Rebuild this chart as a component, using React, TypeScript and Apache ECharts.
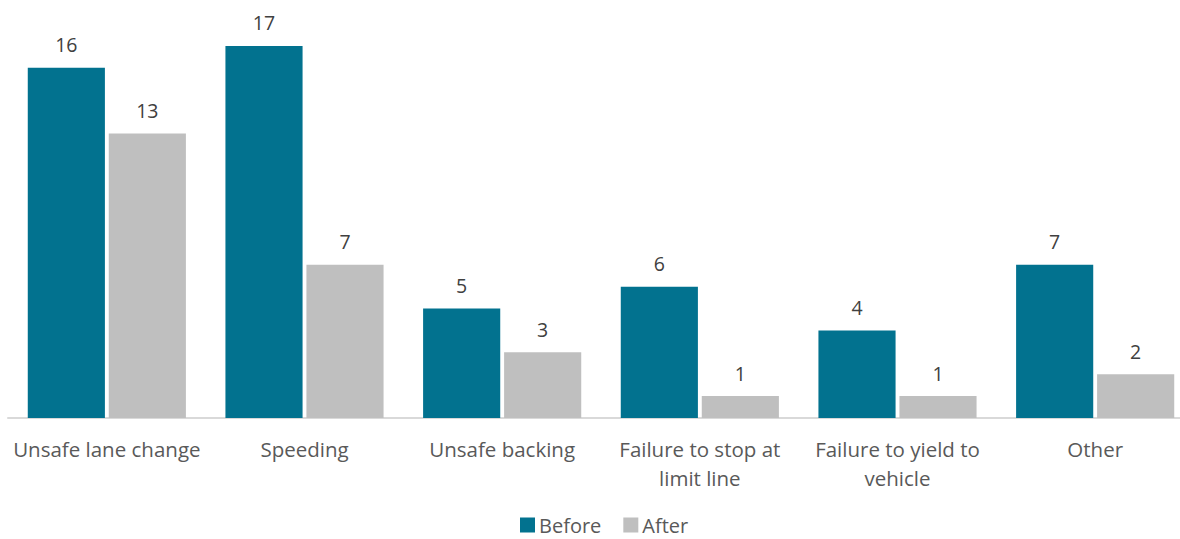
import React, { useEffect, useRef } from "react";
import * as echarts from "echarts";

const categories = [
  "Unsafe lane change",
  "Speeding",
  "Unsafe backing",
  "Failure to stop at\nlimit line",
  "Failure to yield to\nvehicle",
  "Other",
];
const beforeValues = [16, 17, 5, 6, 4, 7];
const afterValues = [13, 7, 3, 1, 1, 2];
const seriesNames = ["Before", "After"];

export default function App() {
  const ref = useRef<HTMLDivElement>(null);
  useEffect(() => {
    if (!ref.current) return;
    const chart = echarts.init(ref.current, undefined, { renderer: "svg" });
    const font = "'Open Sans', sans-serif";
    chart.setOption({
      animation: false,
      grid: { left: 8, right: 0, top: 24, bottom: 121, containLabel: false },
      legend: {
        top: 515,
        left: 520,
        padding: 0,
        itemWidth: 15,
        itemHeight: 15,
        itemGap: 22,
        icon: "rect",
        textStyle: { fontFamily: font, fontSize: 20, lineHeight: 18, color: "#595959", padding: [0, 0, 0, -1] },
        data: seriesNames,
      },
      xAxis: {
        type: "category",
        data: categories,
        axisLine: { lineStyle: { color: "#d9d9d9", width: 2 } },
        axisTick: { show: false },
        axisLabel: {
          fontFamily: font,
          fontSize: 20.5,
          color: "#595959",
          margin: 16,
          lineHeight: 29,
          interval: 0,
        },
      },
      yAxis: {
        type: "value",
        min: 0,
        max: 18,
        show: false,
        splitLine: { show: false },
      },
      series: [
        {
          name: seriesNames[0],
          type: "bar",
          data: beforeValues,
          barGap: "5%",
          barCategoryGap: "20%",
          itemStyle: { color: "#02728f" },
          label: {
            show: true,
            position: "top",
            distance: 13,
            fontFamily: font,
            fontSize: 19.5,
            color: "#404040",
          },
        },
        {
          name: seriesNames[1],
          type: "bar",
          data: afterValues,
          barGap: "5%",
          barCategoryGap: "20%",
          itemStyle: { color: "#bfbfbf" },
          label: {
            show: true,
            position: "top",
            distance: 13,
            fontFamily: font,
            fontSize: 19.5,
            color: "#404040",
          },
        },
      ],
    });
    return () => chart.dispose();
  }, []);
  return (
    <div
      style={{ position: "absolute", left: 0, top: 0, width: 1180, height: 539, overflow: "hidden" }}
    >
      <div ref={ref} style={{ width: 1194, height: 539 }} />
    </div>
  );
}
